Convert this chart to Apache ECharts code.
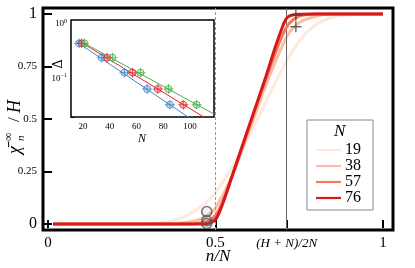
<!DOCTYPE html>
<html><head><meta charset="utf-8">
<script src="https://cdn.jsdelivr.net/npm/echarts@6/dist/echarts.min.js"></script>
<style>html,body{margin:0;padding:0;background:#fff}#c{width:415px;height:268px}</style>
</head><body><div id="c"></div>
<script>
// ---- main panel data ----
const nLabels = ['19', '38', '57', '76'];
const xTicks = [0, 0.5, 0.7125, 1];
const yTicks = [0, 0.25, 0.5, 0.75, 1];
const curve19 = [[0.015,0],[0.25,0],[0.3,0.002],[0.35,0.008],[0.4,0.03],[0.42,0.045],[0.45,0.075],[0.47,0.1],[0.5,0.15],[0.55,0.27],[0.6,0.42],[0.65,0.58],[0.7,0.74],[0.75,0.87],[0.8,0.95],[0.85,0.985],[0.9,0.997],[1,1]];
const curve38 = [[0.015,0],[0.35,0],[0.4,0.004],[0.45,0.02],[0.48,0.045],[0.5,0.075],[0.55,0.23],[0.6,0.44],[0.65,0.66],[0.7,0.85],[0.72,0.91],[0.75,0.96],[0.8,0.99],[0.85,1],[1,1]];
const curve57 = [[0.015,0],[0.42,0],[0.45,0.003],[0.48,0.015],[0.5,0.04],[0.52,0.1],[0.55,0.23],[0.6,0.46],[0.65,0.69],[0.68,0.82],[0.7,0.9],[0.72,0.955],[0.75,0.99],[0.8,1],[1,1]];
const curve76 = [[0.015,0],[0.46,0],[0.48,0.003],[0.5,0.02],[0.52,0.09],[0.55,0.23],[0.6,0.465],[0.65,0.7],[0.68,0.85],[0.7,0.94],[0.71,0.975],[0.72,0.99],[0.74,0.998],[0.8,1],[1,1]];
const circlePts = [[0.474,0.059],[0.474,0.015],[0.474,0.002]];
const plusPts = [[0.74,0.995],[0.74,0.94]];
// ---- inset data ----
const insetBlueN = [17, 34, 51, 68, 85];
const insetRedN = [19, 38, 57, 76, 95];
const insetGreenN = [21, 42, 63, 84, 105];
const insetDelta = [0.44, 0.24, 0.127, 0.0635, 0.0327];
const blueFit = [[15,0.474],[100,0.0184]];
const redFit = [[17,0.485],[115,0.0165]];
const greenFit = [[19,0.47],[118,0.022]];
const insetXTicks = [20, 40, 60, 80, 100];

const serif = 'Liberation Serif';
const curveColors = ['#fee9df', '#fcbfa6', '#f7785c', '#d7191c'];
const curves = [curve19, curve38, curve57, curve76];
const plusPath = 'path://M8.7,0H11.3V8.7H20V11.3H11.3V20H8.7V11.3H0V8.7H8.7Z';
const thinPlus = 'path://M9.1,0H10.9V9.1H20V10.9H10.9V20H9.1V10.9H0V9.1H9.1Z';
const zip = (xs, ys) => xs.map((x, i) => [x, ys[i]]);

const chart = echarts.init(document.getElementById('c'), null, {renderer: 'canvas'});
const series = [];
curves.forEach((c, i) => {
  series.push({type: 'line', name: nLabels[i], xAxisIndex: 0, yAxisIndex: 0, data: c, smooth: 0.3,
    symbol: 'none', lineStyle: {color: curveColors[i], width: 3}, itemStyle: {color: curveColors[i]}, z: 3 + i,
    markLine: i === 0 ? {silent: true, symbol: 'none', label: {show: false},
      data: [{xAxis: 0.5, lineStyle: {color: '#999', type: [3, 2], width: 1}},
             {xAxis: 0.7125, lineStyle: {color: '#666', type: 'solid', width: 1}}]} : undefined});
});
series.push({type: 'scatter', xAxisIndex: 0, yAxisIndex: 0, data: circlePts, symbol: 'circle', symbolSize: 10,
  itemStyle: {color: 'rgba(120,120,120,0.12)', borderColor: '#555', borderWidth: 1.6}, z: 10});
series.push({type: 'scatter', xAxisIndex: 0, yAxisIndex: 0, data: plusPts, symbol: plusPath, symbolSize: 11,
  itemStyle: {color: '#444'}, z: 10});
const insetSets = [[insetBlueN, blueFit, '#3f86c9', 'rgba(63,134,201,0.3)'],
                   [insetRedN, redFit, '#e8262b', 'rgba(232,38,43,0.3)'],
                   [insetGreenN, greenFit, '#47b04a', 'rgba(71,176,74,0.3)']];
insetSets.forEach(([ns, fit, col, fill]) => {
  series.push({type: 'line', xAxisIndex: 2, yAxisIndex: 2, data: fit, symbol: 'none',
    lineStyle: {color: col, width: 1}, z: 20, silent: true});
  series.push({type: 'scatter', xAxisIndex: 2, yAxisIndex: 2, data: zip(ns, insetDelta), symbol: 'circle',
    symbolSize: 7, itemStyle: {color: fill, borderColor: col, borderWidth: 1}, z: 21});
  series.push({type: 'scatter', xAxisIndex: 2, yAxisIndex: 2, data: zip(ns, insetDelta), symbol: thinPlus,
    symbolSize: 10, itemStyle: {color: col}, z: 22});
});

const tickStyle = {show: true, inside: true, length: 4, lineStyle: {color: '#000', width: 2}};
chart.setOption({
  animation: false,
  backgroundColor: '#fff',
  textStyle: {fontFamily: serif},
  grid: [
    {left: 43, top: 8, width: 350, height: 222, show: true, borderColor: '#000', borderWidth: 3, backgroundColor: 'transparent', z: 0, containLabel: false, outerBoundsMode: 'none'},
    {left: 71, top: 20, width: 143, height: 97, show: true, borderColor: '#000', borderWidth: 1.5, backgroundColor: '#fff', z: 15, containLabel: false, outerBoundsMode: 'none'}
  ],
  xAxis: [
    {type: 'value', gridIndex: 0, min: -0.015, max: 1.03, splitLine: {show: false}, axisLine: {show: false},
      axisTick: Object.assign({}, tickStyle, {customValues: xTicks}),
      axisLabel: {customValues: xTicks, margin: 6, color: '#000', fontFamily: serif,
        formatter: v => Math.abs(v - 0.7125) < 1e-6 ? '{h|(H + N)/2N}' : '{b|' + v + '}',
        rich: {b: {fontSize: 15, fontFamily: serif, color: '#000'},
               h: {fontSize: 13, fontStyle: 'italic', fontFamily: serif, color: '#000', padding: [1, 0, 0, 0]}}}},
    {type: 'value', gridIndex: 0, position: 'top', min: -0.015, max: 1.03, splitLine: {show: false}, axisLine: {show: false},
      axisTick: Object.assign({}, tickStyle, {customValues: xTicks}), axisLabel: {show: false}},
    {type: 'value', gridIndex: 1, min: 11, max: 118, splitLine: {show: false}, axisLine: {show: false},
      axisTick: {show: true, inside: true, length: 3, customValues: insetXTicks, lineStyle: {color: '#000', width: 1}},
      axisLabel: {customValues: insetXTicks, margin: 5, fontSize: 9, color: '#000', fontFamily: serif}}
  ],
  yAxis: [
    {type: 'value', gridIndex: 0, min: -0.029, max: 1.029, splitLine: {show: false}, axisLine: {show: false},
      axisTick: Object.assign({}, tickStyle, {customValues: yTicks}),
      axisLabel: {customValues: yTicks, margin: 6, color: '#000',
        formatter: v => (v === 0 || v === 1) ? '{b|' + v + '}' : '{s|' + v + '}',
        rich: {b: {fontSize: 16, fontFamily: serif, color: '#000'}, s: {fontSize: 11, fontFamily: serif, color: '#000'}}}},
    {type: 'value', gridIndex: 0, position: 'right', min: -0.029, max: 1.029, splitLine: {show: false}, axisLine: {show: false},
      axisTick: Object.assign({}, tickStyle, {customValues: yTicks}), axisLabel: {show: false}},
    {type: 'log', logBase: 10, gridIndex: 1, min: 0.0194, max: 1.185, splitLine: {show: false}, axisLine: {show: false},
      axisTick: {show: true, inside: true, length: 3, lineStyle: {color: '#000', width: 1}},
      minorTick: {show: false},
      axisLabel: {margin: 4, color: '#000', fontFamily: serif,
        formatter: v => Math.abs(v - 1) < 1e-9 ? '10{s|0}' : (Math.abs(v - 0.1) < 1e-9 ? '10{s|−1}' : ''),
        fontSize: 9, rich: {s: {fontSize: 6, verticalAlign: 'top', padding: [0, 0, 5, 0], fontFamily: serif, color: '#000'}}}}
  ],
  legend: {
    data: nLabels, orient: 'vertical', left: 307, top: 120, itemGap: 0, itemWidth: 25, itemHeight: 14,
    padding: [22, 12, 4, 9], backgroundColor: '#fff', borderColor: '#888', borderWidth: 1, borderRadius: 0,
    icon: 'path://M0,0H25V2.2H0Z',
    textStyle: {fontSize: 16, fontFamily: serif, color: '#000', padding: [0, 0, 0, -1]}, z: 30
  },
  graphic: [
    {type: 'text', left: 334, top: 123, z: 40, style: {text: 'N', font: 'italic 17px "Liberation Serif"', fill: '#000'}},
    {type: 'text', x: 218, y: 257, z: 40, style: {text: 'n/N', font: 'italic 17px "Liberation Serif"', fill: '#000', align: 'center', verticalAlign: 'middle'}},
    {type: 'text', x: 142, y: 139, z: 40, style: {text: 'N', font: 'italic 12px "Liberation Serif"', fill: '#000', align: 'center', verticalAlign: 'middle'}},
    {type: 'text', x: 58, y: 64, rotation: Math.PI / 2, z: 40, style: {text: 'Δ', font: '14px "Liberation Serif"', fill: '#000', align: 'center', verticalAlign: 'middle'}},
    {type: 'group', x: 15, y: 126, rotation: Math.PI / 2, z: 40, children: [
      {type: 'text', x: -28, y: 0, style: {text: 'χ̄', font: 'italic 18px "Liberation Serif"', fill: '#000', verticalAlign: 'middle'}},
      {type: 'text', x: -15, y: -6, style: {text: '∞', font: '12px "Liberation Serif"', fill: '#000', verticalAlign: 'middle'}},
      {type: 'text', x: -15, y: 6, style: {text: 'n', font: 'italic 11px "Liberation Serif"', fill: '#000', verticalAlign: 'middle'}},
      {type: 'text', x: 4, y: 0, style: {text: '/', font: '17px "Liberation Serif"', fill: '#000', verticalAlign: 'middle'}},
      {type: 'text', x: 13, y: 0, style: {text: 'H', font: 'italic 18px "Liberation Serif"', fill: '#000', verticalAlign: 'middle'}}
    ]}
  ],
  series: series
});
</script></body></html>
